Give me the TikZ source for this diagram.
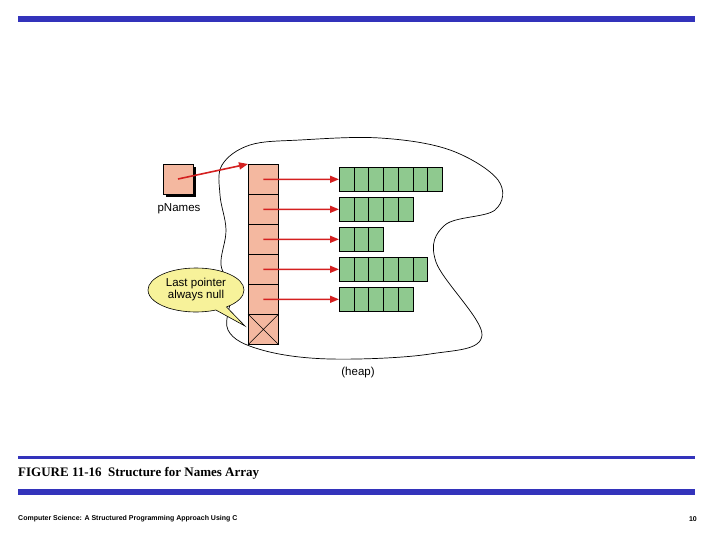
\documentclass[tikz,border=0pt]{standalone}
\usepackage{fontspec}
\setsansfont{Liberation Sans}
\setmainfont{Liberation Serif}
\usetikzlibrary{arrows.meta,shapes.callouts}
\definecolor{barblue}{HTML}{3333BB}
\definecolor{ptr}{HTML}{F4B8A0}
\definecolor{grn}{HTML}{8FC98F}
\definecolor{arr}{HTML}{D42020}
\definecolor{yel}{HTML}{F7F29A}
\tikzset{
 pcell/.style={draw=black,fill=ptr,line width=0.8pt},
 gcell/.style={draw=black,fill=grn,line width=0.6pt},
 parrow/.style={draw=arr,line width=1.6pt,-{Triangle[length=9pt,width=7pt]}},
 lbl/.style={font=\sffamily\fontsize{11.5}{12}\selectfont,inner sep=0pt}
}
\begin{document}
\begin{tikzpicture}[x=1pt,y=-1pt]
\useasboundingbox (0,0) rectangle (720,540);
\fill[barblue] (18,16) rectangle (695,22);
\fill[barblue] (18,456) rectangle (695,458.5);
\fill[barblue] (18,489) rectangle (695,495);
\node[anchor=west,font=\rmfamily\bfseries\fontsize{13}{14}\selectfont,inner sep=0pt] (cap) at (18,473) {FIGURE 11-16\ \ Structure for Names Array};
\node[anchor=west,font=\sffamily\bfseries\fontsize{7}{8}\selectfont,inner sep=0pt] (foot) at (18,519) {Computer Science: A Structured Programming Approach Using C};
\node[anchor=east,font=\sffamily\bfseries\fontsize{7}{8}\selectfont,inner sep=0pt] (pg) at (697,519) {10};
% heap blob
\draw[line width=0.7pt] plot[smooth cycle,tension=0.6] coordinates {(222,165) (250,145) (300,140) (380,138) (450,150) (498,180) (495,210) (445,225) (436,262) (482,335) (430,354) (330,359) (262,350) (228,330) (232,290) (221,265) (226,230) (220,195)};
\node[lbl] (heap) at (358,373) {(heap)};
% pNames
\fill[black] (166,167) rectangle (196,197);
\node[pcell,minimum size=30pt,inner sep=0pt] (pn) at (178,179) {};
\node[lbl] (pnl) at (179,209) {pNames};
% array
\foreach \i/\y in {1/164,2/194,3/224,4/254,5/284,6/314}{
  \node[pcell,anchor=north west,minimum width=30pt,minimum height=30pt,inner sep=0pt] (c\i) at (248,\y) {};
}
\draw[line width=0.6pt] (c6.north west) -- (c6.south east) (c6.north east) -- (c6.south west);
\draw[parrow] (pn.center) -- (c1.north west);
% green rows
\foreach \r/\y/\n in {1/167/7,2/197/5,3/227/3,4/257/6,5/287/5}{
  \foreach \k in {1,...,\n}{
    \node[gcell,anchor=north west,minimum width=14.7pt,minimum height=24pt,inner sep=0pt] (g\r-\k) at ({339+(\k-1)*14.7},\y) {};
  }
  \draw[parrow] (c\r.center) -- (g\r-1.west);
}
% callout
\node[ellipse callout,draw=black,fill=yel,line width=0.6pt,minimum width=96pt,minimum height=44pt,inner sep=0pt,
 callout absolute pointer={(245,326)},align=center,font=\sffamily\fontsize{11.5}{12}\selectfont] (co) at (196,290) {Last pointer\\always null};
\end{tikzpicture}
\end{document}
